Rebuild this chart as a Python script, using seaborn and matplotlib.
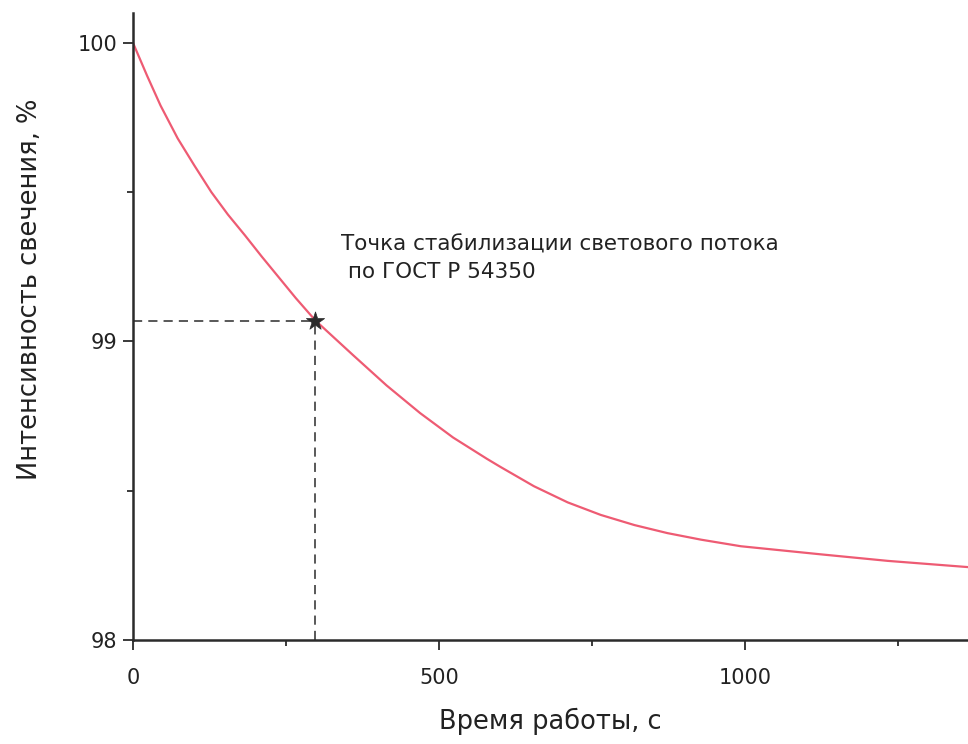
import matplotlib
matplotlib.use("Agg")
import matplotlib.pyplot as plt
from matplotlib.ticker import FixedLocator
import seaborn as sns
import pandas as pd

# ---- data ----
time_s = [0, 23, 45, 73, 100, 128, 155, 183, 210, 238, 266, 298, 359, 414,
          469, 523, 578, 600, 655, 710, 764, 819, 873, 928, 993, 1123,
          1233, 1365]
intensity = [100.0, 99.89, 99.79, 99.68, 99.59, 99.50, 99.425, 99.355,
             99.285, 99.215, 99.145, 99.07, 98.955, 98.853, 98.76, 98.678,
             98.607, 98.58, 98.515, 98.461, 98.419, 98.385, 98.358, 98.336,
             98.314, 98.287, 98.265, 98.244]

stab_time = 298
stab_value = 99.07

x_major = [0, 500, 1000]
x_minor = [250, 750, 1250]
y_major = [98, 99, 100]
y_minor = [98.5, 99.5]

x_label = "Время работы, с"
y_label = "Интенсивность свечения, %"
annot = "Точка стабилизации светового потока\n по ГОСТ Р 54350"

df = pd.DataFrame({"t": time_s, "I": intensity})

sns.set_style("ticks")
plt.rcParams["font.family"] = ["DejaVu Sans"]

ink = "#2b2b2b"
fig = plt.figure(figsize=(9.68, 7.44), dpi=100)
ax = fig.add_axes([133 / 968, 104 / 744, 835 / 968, 627 / 744])

sns.lineplot(data=df, x="t", y="I", ax=ax, color="#EE5B73", linewidth=1.6)

# guide lines to the stabilisation point
ax.plot([0, stab_time], [stab_value, stab_value], color=ink, lw=1.1,
        dashes=(6, 4), zorder=2)
ax.plot([stab_time, stab_time], [98, stab_value], color=ink, lw=1.1,
        dashes=(6, 4), zorder=2)
sns.scatterplot(x=[stab_time], y=[stab_value], marker="*", s=190,
                color=ink, edgecolor=ink, linewidth=0.5, ax=ax, zorder=5)

ax.text(339, 99.357, annot, fontsize=15.5, color="#222222", ha="left",
        va="top", linespacing=1.45)

ax.set_xlim(0, 1364)
ax.set_ylim(98, 100.1)
ax.xaxis.set_major_locator(FixedLocator(x_major))
ax.xaxis.set_minor_locator(FixedLocator(x_minor))
ax.yaxis.set_major_locator(FixedLocator(y_major))
ax.yaxis.set_minor_locator(FixedLocator(y_minor))

for side in ["top", "right"]:
    ax.spines[side].set_visible(False)
for side in ["left", "bottom"]:
    ax.spines[side].set_color(ink)
    ax.spines[side].set_linewidth(1.8)

ax.tick_params(axis="both", which="major", length=7.5, width=1.3,
               colors=ink, labelsize=15, labelcolor="#222222")
ax.tick_params(axis="both", which="minor", length=4, width=1.3, colors=ink)
ax.tick_params(axis="x", which="major", pad=13)
ax.tick_params(axis="y", which="major", pad=4)

ax.set_xlabel(x_label, fontsize=18.5, color="#222222", labelpad=14)
ax.set_ylabel(y_label, fontsize=18.5, color="#222222")
ax.yaxis.set_label_coords(-0.108, 0.56)

fig.savefig("out.png", dpi=100)
